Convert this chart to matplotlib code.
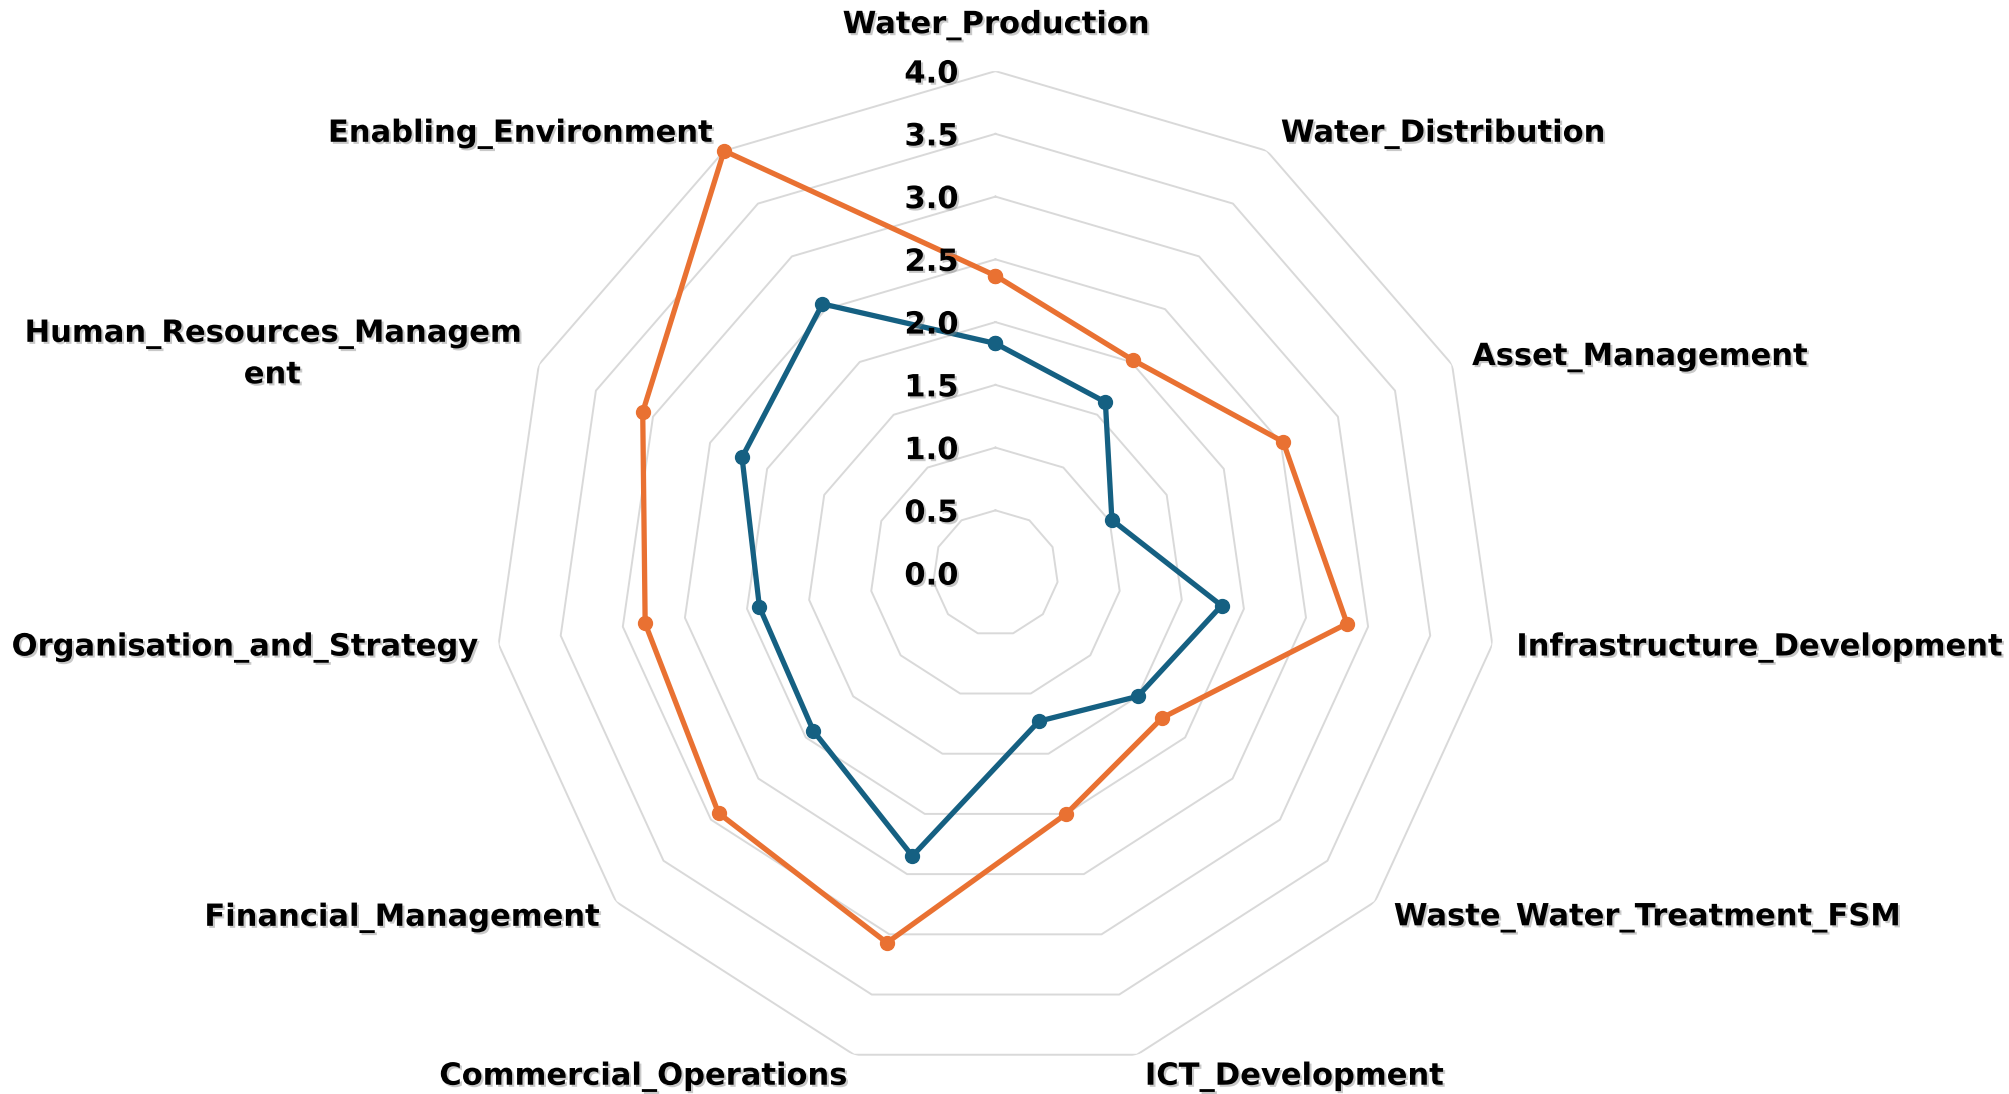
import numpy as np
import matplotlib
import matplotlib.pyplot as plt
import matplotlib.patheffects as pe
from matplotlib.transforms import offset_copy

matplotlib.use("Agg")

categories = [
    "Water_Production",
    "Water_Distribution",
    "Asset_Management",
    "Infrastructure_Development",
    "Waste_Water_Treatment_FSM",
    "ICT_Development",
    "Commercial_Operations",
    "Financial_Management",
    "Organisation_and_Strategy",
    "Human_Resources_Managem\nent",
    "Enabling_Environment",
]
series_blue = [1.83, 1.62, 1.02, 1.82, 1.50, 1.23, 2.35, 1.92, 1.90, 2.22, 2.55]
series_orange = [2.37, 2.02, 2.52, 2.83, 1.76, 2.00, 3.07, 2.92, 2.82, 3.09, 4.00]
levels = [0.0, 0.5, 1.0, 1.5, 2.0, 2.5, 3.0, 3.5, 4.0]
level_labels = ["0.0", "0.5", "1.0", "1.5", "2.0", "2.5", "3.0", "3.5", "4.0"]

BLUE = "#156082"
ORANGE = "#E97132"
GRID = "#D9D9D9"

# label offsets in pixels (dx, dy, ha) per category
label_offsets = [
    (0, 46, "center"),
    (14, 17, "left"),
    (20, 7, "left"),
    (24, -3, "left"),
    (19, -16, "left"),
    (8, -22, "left"),
    (-8, -22, "right"),
    (-18, -16, "right"),
    (-22, -3, "right"),
    (-19, 10, "right"),
    (-13, 17, "right"),
]

shadow = [pe.SimplePatchShadow(offset=(1.5, -1.5), shadow_rgbFace="#888888", alpha=0.45), pe.Normal()]

fig = plt.figure(figsize=(20.09, 10.94), dpi=100)
ax = fig.add_axes([0.2456, 0.0173, 0.4998, 0.9177], projection="polar")
ax.set_theta_zero_location("N")
ax.set_theta_direction(-1)
ax.set_ylim(0, 4)
ax.grid(False)
ax.spines["polar"].set_visible(False)
ax.set_xticks([])
ax.set_yticks([])
ax.patch.set_alpha(0)

n = len(categories)
angles = np.linspace(0, 2 * np.pi, n, endpoint=False)
closed = np.append(angles, angles[0])

for lv in levels[1:]:
    ax.plot(closed, [lv] * (n + 1), color=GRID, lw=1.4, zorder=1)

for vals, col in [(series_blue, BLUE), (series_orange, ORANGE)]:
    v = np.append(vals, vals[0])
    ax.plot(closed, v, color=col, lw=3.8, marker="o", markersize=10, zorder=3, clip_on=False)

font = dict(family="DejaVu Sans", fontweight="bold", fontsize=22, color="black")

for lv, lab in zip(levels, level_labels):
    tr = offset_copy(ax.transData, fig=fig, x=-37, y=-3, units="dots")
    t = ax.text(0, lv, lab, transform=tr, ha="right", va="center", zorder=4, **font)
    t.set_path_effects(shadow)

for ang, cat, (dx, dy, ha) in zip(angles, categories, label_offsets):
    tr = offset_copy(ax.transData, fig=fig, x=dx, y=dy, units="dots")
    t = ax.text(ang, 4.0, cat, transform=tr, ha=ha, va="center", multialignment="center",
                linespacing=1.5, **font)
    t.set_path_effects(shadow)

fig.savefig("out.png", dpi=100, facecolor="white")
